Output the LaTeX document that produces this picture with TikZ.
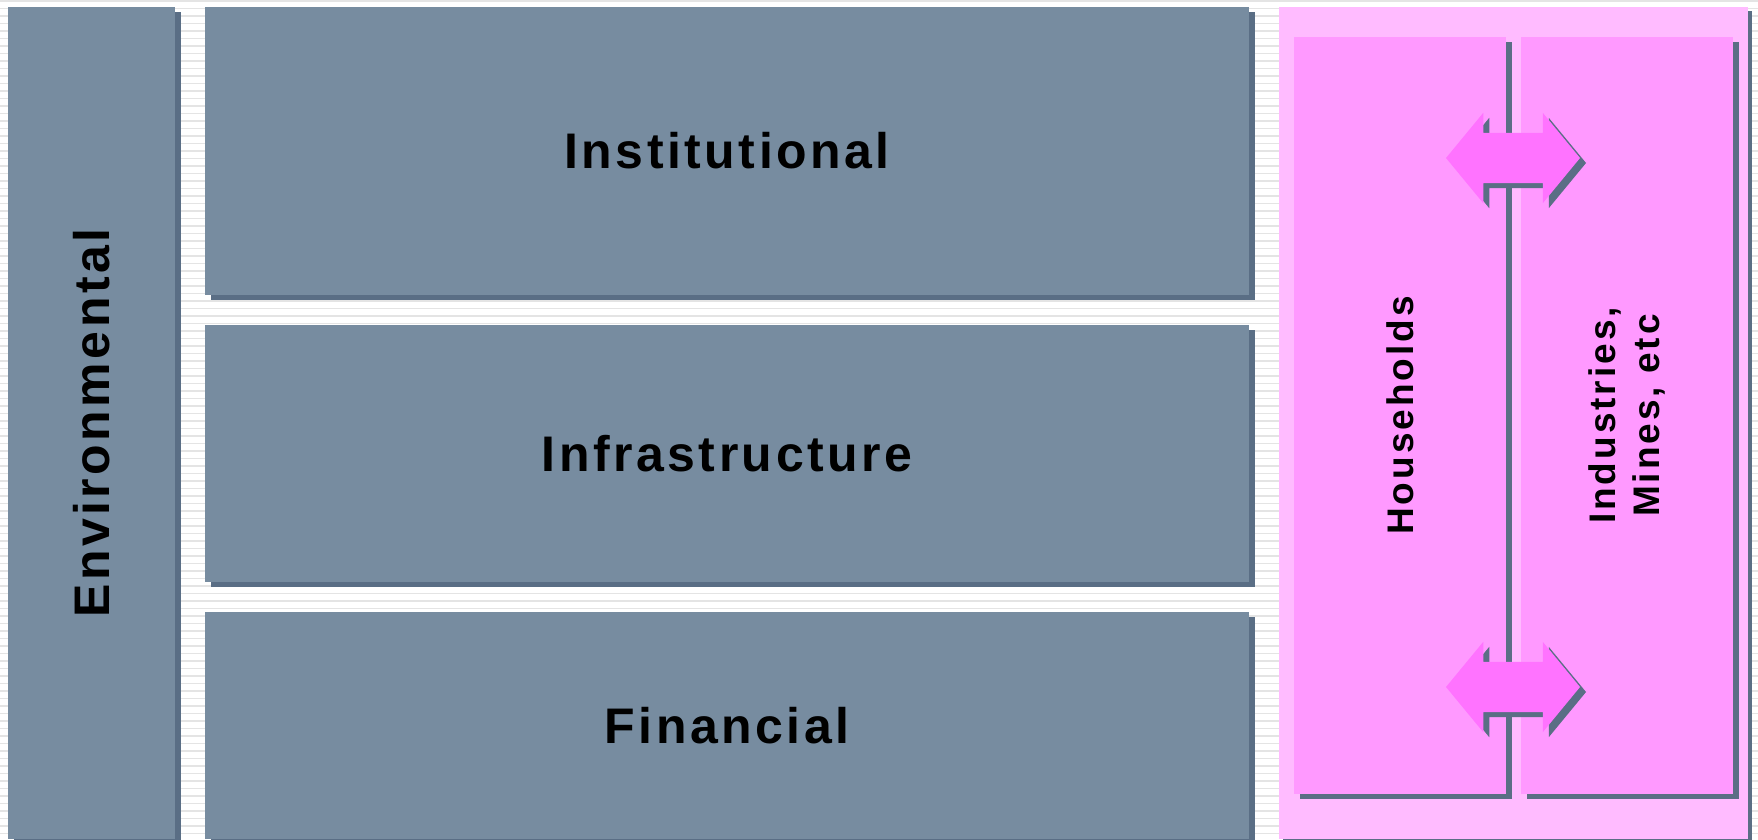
\documentclass[tikz,border=0pt]{standalone}
\usepackage{fontspec}
\newfontfamily\boxfont{Liberation Sans}[LetterSpace=7]
\newfontfamily\cellfont{Liberation Sans}[LetterSpace=8]
\usetikzlibrary{shapes.arrows,shadows}

\definecolor{boxgray}{RGB}{119,140,160}
\definecolor{boxshadow}{RGB}{90,110,133}
\definecolor{panelpink}{RGB}{255,187,255}
\definecolor{cellpink}{RGB}{255,153,255}
\definecolor{arrowpink}{RGB}{255,115,255}
\definecolor{stripegray}{RGB}{228,228,228}

\begin{document}
\begin{tikzpicture}[
    x=1pt, y=-1pt,
    every node/.style={
        inner sep=0pt,
        font=\boxfont\bfseries\fontsize{50}{60}\selectfont
    },
    box/.style={
        rectangle,
        fill=boxgray,
        drop shadow={shadow xshift=6pt, shadow yshift=-5pt, fill=boxshadow, opacity=1}
    },
    panel/.style={
        rectangle,
        fill=panelpink,
        drop shadow={shadow xshift=4pt, shadow yshift=-4pt, fill=boxshadow, opacity=1}
    },
    cell/.style={
        rectangle,
        fill=cellpink,
        minimum width=212pt,
        minimum height=757pt,
        drop shadow={shadow xshift=6pt, shadow yshift=-5pt, fill=boxshadow, opacity=1}
    },
    swap/.style={
        double arrow,
        fill=arrowpink,
        inner xsep=0pt,
        inner ysep=25pt,
        minimum height=134pt,
        double arrow head extend=20pt,
        double arrow tip angle=101,
        drop shadow={shadow xshift=6pt, shadow yshift=-5pt, fill=boxshadow, opacity=1}
    },
    small/.style={
        font=\cellfont\bfseries\fontsize{37}{44}\selectfont
    }
]

% 배경
\useasboundingbox (0,0) rectangle (1758,840);
\fill[white] (0,0) rectangle (1758,840);
\foreach \y in {1,8.5,...,840}
    \draw[stripegray, line width=1.5pt] (0,\y) -- (1758,\y);

% 왼쪽 상자
\node[box, minimum width=167pt, minimum height=832pt] (env) at (91.5,423) {};
\node[box, minimum width=1044pt, minimum height=288pt] (inst) at (727,151) {Institutional};
\node[box, minimum width=1044pt, minimum height=257pt] (infra) at (727,453.5) {Infrastructure};
\node[box, minimum width=1044pt, minimum height=227pt] (fin) at (727,725.5) {Financial};
\node[rotate=90] (envlabel) at (env) {Environmental};

% 오른쪽 상자
\node[panel, minimum width=469pt, minimum height=832pt] (panel) at (1513.5,423) {};
\node[cell] (house) at (1400,415.5) {};
\node[cell] (ind) at (1627,415.5) {};
\node[rotate=90, small] (houselabel) at (house) {Households};
\node[rotate=90, small, align=center] (indlabel) at (ind) {Industries,\\Mines, etc};

% 화살표
\node[swap] (swaptop) at (1513,158) {};
\node[swap] (swapbottom) at (1513,687) {};

\end{tikzpicture}
\end{document}
